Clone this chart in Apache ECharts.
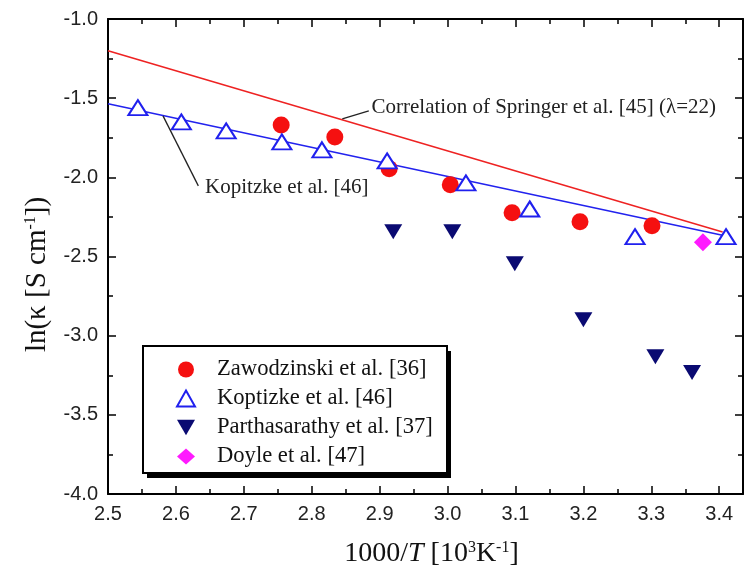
<!DOCTYPE html>
<html>
<head>
<meta charset="utf-8">
<script src="https://cdn.jsdelivr.net/npm/echarts@6/dist/echarts.min.js"></script>
<style>
html, body { margin: 0; padding: 0; background: #fff; }
#main { width: 744px; height: 573px; }
</style>
</head>
<body>
<div id="main"></div>
<script>
var dom = document.getElementById('main');
var myChart = echarts.init(dom);

// data (x = 1000/T, y = ln(kappa))
var zawodzinski = [[2.755, -1.67], [2.834, -1.745], [2.914, -1.945], [3.004, -2.047], [3.095, -2.224], [3.195, -2.28], [3.301, -2.306]];
var koptizke = [[2.544, -1.56], [2.608, -1.65], [2.674, -1.707], [2.756, -1.776], [2.815, -1.826], [2.911, -1.896], [3.027, -2.035], [3.121, -2.2], [3.276, -2.375], [3.41, -2.375]];
var parthasarathy = [[2.92, -2.344], [3.007, -2.344], [3.099, -2.546], [3.2, -2.899], [3.306, -3.133], [3.36, -3.233]];
var doyle = [[3.376, -2.41]];
var springerFit = [[2.5, -1.2], [3.405, -2.345]];
var kopitzkeFit = [[2.5, -1.535], [3.415, -2.375]];

var serif = '"Liberation Serif", "DejaVu Serif", serif';
var sans = '"Liberation Sans", Arial, sans-serif';

var supStyle = { fontSize: 16, fontFamily: serif, color: '#111', verticalAlign: 'top', padding: [0, 0, 9, 0] };

function axisBase(showLabel) {
	return {
		axisLine: { show: true, lineStyle: { color: '#000', width: 2 } },
		axisTick: { show: true, inside: true, length: 8, lineStyle: { color: '#000', width: 1.5 } },
		minorTick: { show: true, splitNumber: 2, length: 5, lineStyle: { color: '#000', width: 1.5 } },
		splitLine: { show: false },
		axisLabel: { show: showLabel }
	};
}

var xBottom = axisBase(true);
xBottom.type = 'value';
xBottom.position = 'bottom';
xBottom.min = 2.5;
xBottom.max = 3.435;
xBottom.interval = 0.1;
xBottom.axisLabel = {
	show: true, margin: 10, color: '#222', fontSize: 20, fontFamily: sans,
	showMaxLabel: false,
	formatter: function (v) { return v.toFixed(1); }
};
xBottom.name = '1000/{i|T} [10{sup|3}K{sup|-1}]';
xBottom.nameLocation = 'middle';
xBottom.nameGap = 46;
xBottom.nameTextStyle = {
	fontSize: 28, fontFamily: serif, color: '#111', padding: [0, 0, 0, 12],
	rich: { i: { fontSize: 28, fontFamily: serif, fontStyle: 'italic', color: '#111' }, sup: supStyle }
};

var xTop = axisBase(false);
xTop.type = 'value';
xTop.position = 'top';
xTop.min = 2.5;
xTop.max = 3.435;
xTop.interval = 0.1;

var yLeft = axisBase(true);
yLeft.type = 'value';
yLeft.position = 'left';
yLeft.min = -4;
yLeft.max = -1;
yLeft.interval = 0.5;
yLeft.axisLabel = {
	show: true, margin: 10, color: '#222', fontSize: 20, fontFamily: sans,
	formatter: function (v) { return v.toFixed(1); }
};
yLeft.name = 'ln(κ [S cm{sup|-1}])';
yLeft.nameLocation = 'middle';
yLeft.nameGap = 56;
yLeft.nameTextStyle = {
	fontSize: 29, fontFamily: serif, color: '#111', padding: [0, 36, 0, 0],
	rich: { sup: supStyle }
};

var yRight = axisBase(false);
yRight.type = 'value';
yRight.position = 'right';
yRight.min = -4;
yRight.max = -1;
yRight.interval = 0.5;

option = {
	animation: false,
	backgroundColor: '#fff',
	grid: { left: 108, right: 1, top: 19, bottom: 79 },
	xAxis: [xBottom, xTop],
	yAxis: [yLeft, yRight],
	legend: {
		data: ['Zawodzinski et al. [36]', 'Koptizke et al. [46]', 'Parthasarathy et al. [37]', 'Doyle et al. [47]'],
		orient: 'vertical',
		left: 142,
		top: 345,
		z: 8,
		padding: [13, 0, 0, 34],
		itemGap: 6,
		itemWidth: 18,
		itemHeight: 16,
		textStyle: { fontSize: 22.6, fontFamily: serif, color: '#111', padding: [0, 0, 0, 17] }
	},
	graphic: [{
		type: 'rect', z: 6, left: 147, top: 351,
		shape: { width: 304, height: 127 },
		style: { fill: '#000' }
	}, {
		type: 'rect', z: 7, left: 142, top: 345,
		shape: { width: 304, height: 127 },
		style: { fill: '#fff', stroke: '#000', lineWidth: 2 }
	}],
	series: [{
		name: 'Springer fit',
		type: 'line',
		data: springerFit,
		showSymbol: false,
		lineStyle: { color: '#ee2222', width: 1.5 },
		itemStyle: { color: '#ee2222' },
		z: 2
	}, {
		name: 'Kopitzke fit',
		type: 'line',
		data: kopitzkeFit,
		showSymbol: false,
		lineStyle: { color: '#2222ee', width: 1.5 },
		itemStyle: { color: '#2222ee' },
		z: 2
	}, {
		name: 'Zawodzinski et al. [36]',
		type: 'scatter',
		data: zawodzinski,
		symbol: 'circle',
		symbolSize: 17,
		itemStyle: { color: '#f51010', opacity: 1 },
		z: 3
	}, {
		name: 'Koptizke et al. [46]',
		type: 'scatter',
		data: koptizke,
		symbol: 'emptyTriangle',
		symbolSize: [19, 15],
		itemStyle: { color: '#2020ee', borderColor: '#2020ee', borderWidth: 1.5, opacity: 1 },
		z: 4
	}, {
		name: 'Parthasarathy et al. [37]',
		type: 'scatter',
		data: parthasarathy,
		symbol: 'path://M0,0L20,0L10,17Z',
		symbolSize: [18, 15],
		itemStyle: { color: '#0a0a72', opacity: 1 },
		z: 3
	}, {
		name: 'Doyle et al. [47]',
		type: 'scatter',
		data: doyle,
		symbol: 'diamond',
		symbolSize: 18,
		itemStyle: { color: '#ff1aff', opacity: 1 },
		z: 3
	}]
};

myChart.setOption(option, true);

// annotations with leader lines, anchored in data coordinates
var notes = [
	{ text: 'Correlation of Springer et al. [45] (λ=22)', from: [2.845, -1.631], to: [2.884, -1.58], at: [2.888, -1.56] },
	{ text: 'Kopitzke et al. [46]', from: [2.581, -1.612], to: [2.633, -2.054], at: [2.643, -2.066] }
];
var graphics = option.graphic.slice();
notes.forEach(function (n) {
	var a = myChart.convertToPixel({ gridIndex: 0 }, n.from);
	var b = myChart.convertToPixel({ gridIndex: 0 }, n.to);
	var c = myChart.convertToPixel({ gridIndex: 0 }, n.at);
	graphics.push({
		type: 'line', z: 10,
		shape: { x1: a[0], y1: a[1], x2: b[0], y2: b[1] },
		style: { stroke: '#222', lineWidth: 1.3 }
	});
	graphics.push({
		type: 'text', z: 10, x: c[0], y: c[1],
		style: { text: n.text, font: '21px ' + serif, fill: '#222', verticalAlign: 'middle', align: 'left' }
	});
});
myChart.setOption({ graphic: graphics });
</script>
</body>
</html>
